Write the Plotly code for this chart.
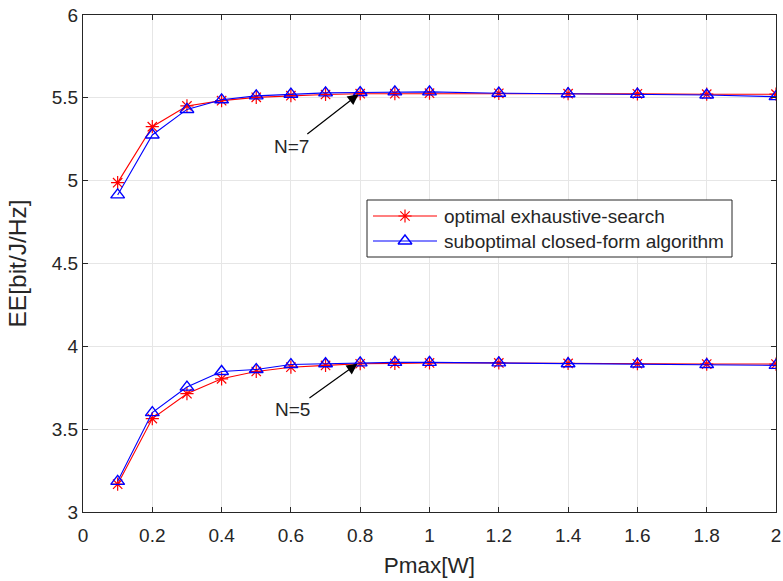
import plotly.graph_objects as go

pmax = [0.1, 0.2, 0.3, 0.4, 0.5, 0.6, 0.7, 0.8, 0.9, 1.0, 1.2, 1.4, 1.6, 1.8, 2.0]

opt_n7 = [4.988, 5.326, 5.451, 5.483, 5.503, 5.513, 5.520, 5.525, 5.525, 5.528, 5.527, 5.525, 5.524, 5.522, 5.522]
sub_n7 = [4.914, 5.276, 5.430, 5.488, 5.512, 5.522, 5.530, 5.532, 5.536, 5.536, 5.528, 5.525, 5.522, 5.517, 5.507]
opt_n5 = [3.168, 3.564, 3.714, 3.804, 3.848, 3.874, 3.885, 3.895, 3.897, 3.900, 3.900, 3.897, 3.895, 3.893, 3.893]
sub_n5 = [3.185, 3.600, 3.754, 3.848, 3.860, 3.890, 3.895, 3.900, 3.903, 3.903, 3.900, 3.895, 3.893, 3.890, 3.885]

x_ticks = [0, 0.2, 0.4, 0.6, 0.8, 1, 1.2, 1.4, 1.6, 1.8, 2]
y_ticks = [3, 3.5, 4, 4.5, 5, 5.5, 6]

legend_names = ["optimal exhaustive-search", "suboptimal closed-form algorithm"]
labels = ["N=7", "N=5"]

FONT = "Liberation Sans, Arial, sans-serif"
AX = "#262626"
RED = "#ff0000"
BLUE = "#0000ff"

# body margin is removed by a post script; plot area at screen x 83..776, y 15..512
W, H = 783, 581
ML, MR, MT, MB = 83, 7, 15, 69
X0, X1, Y0, Y1 = 0.0, 2.0, 3.0, 6.0
PW, PH = W - ML - MR, H - MT - MB

def dx(px):
    return X0 + (px - ML) / PW * (X1 - X0)

def dy(py):
    return Y1 - (py - MT) / PH * (Y1 - Y0)

fig = go.Figure()

red_marker = dict(symbol="asterisk-open", size=11, color=RED, line=dict(color=RED, width=1.2))
blue_marker = dict(symbol="triangle-up-open", size=12, color=BLUE, line=dict(color=BLUE, width=1.4))

# custom legend box (layout decoration)
fig.add_shape(type="rect", xref="x", yref="y", x0=dx(367), x1=dx(732), y0=dy(257), y1=dy(200),
              line=dict(color=AX, width=1), fillcolor="white", layer="between")

for yv in (opt_n7, opt_n5):
    fig.add_trace(go.Scatter(x=pmax, y=yv, mode="lines+markers", name=legend_names[0],
                             line=dict(color=RED, width=1.1), marker=red_marker, showlegend=False))
for yv in (sub_n7, sub_n5):
    fig.add_trace(go.Scatter(x=pmax, y=yv, mode="lines+markers", name=legend_names[1],
                             line=dict(color=BLUE, width=1.1), marker=blue_marker, showlegend=False))

leg_rows = [(216, RED, red_marker, legend_names[0]), (241, BLUE, blue_marker, legend_names[1])]
for py, col, mk, name in leg_rows:
    fig.add_trace(go.Scatter(x=[dx(373), dx(437)], y=[dy(py), dy(py)], mode="lines",
                             line=dict(color=col, width=1.1), hoverinfo="skip", showlegend=False))
    fig.add_trace(go.Scatter(x=[dx(405)], y=[dy(py)], mode="markers", marker=mk,
                             hoverinfo="skip", showlegend=False))
    fig.add_annotation(x=dx(442), y=dy(py), xref="x", yref="y", text=name,
                       showarrow=False, xanchor="left", yanchor="middle",
                       font=dict(family=FONT, size=19, color=AX))

# annotations with arrows
ann_specs = [
    (labels[0], 0.795, 5.522, 0.603, 5.209),
    (labels[1], 0.792, 3.895, 0.605, 3.616),
]
for text, hx, hy, tx, ty in ann_specs:
    fig.add_annotation(x=hx, y=hy, ax=tx, ay=ty, xref="x", yref="y", axref="x", ayref="y",
                       text=text, showarrow=True, arrowhead=2, arrowsize=1.8, arrowwidth=1.2,
                       arrowcolor="#000000", font=dict(family=FONT, size=19, color=AX))

fig.update_layout(
    width=W, height=H,
    margin=dict(l=ML, r=MR, t=MT, b=MB),
    paper_bgcolor="white", plot_bgcolor="white",
    font=dict(family=FONT, size=19, color=AX),
    showlegend=False,
)
fig.update_xaxes(range=[X0, X1], tickvals=x_ticks, ticktext=[f"{v:g}" for v in x_ticks],
                 showgrid=True, gridcolor="#e6e6e6", gridwidth=1, automargin=False,
                 showline=True, linecolor=AX, linewidth=1, mirror="ticks",
                 ticks="inside", ticklen=5, tickcolor=AX, zeroline=False,
                 ticklabeloverflow="allow", ticklabelstandoff=6,
                 tickfont=dict(size=19, color=AX),
                 title=dict(text="Pmax[W]", font=dict(size=22.5, color=AX), standoff=12))
fig.update_yaxes(range=[Y0, Y1], tickvals=y_ticks, ticktext=[f"{v:g}" for v in y_ticks],
                 showgrid=True, gridcolor="#e6e6e6", gridwidth=1, automargin=False,
                 showline=True, linecolor=AX, linewidth=1, mirror="ticks",
                 ticks="inside", ticklen=5, tickcolor=AX, zeroline=False,
                 ticklabeloverflow="allow",
                 tickfont=dict(size=19, color=AX),
                 title=dict(text="EE[bit/J/Hz]", font=dict(size=24.5, color=AX), standoff=18))

fig.write_html("out.html", config={"displayModeBar": False},
               post_script="document.body.style.margin='0';document.body.style.overflow='hidden';")
